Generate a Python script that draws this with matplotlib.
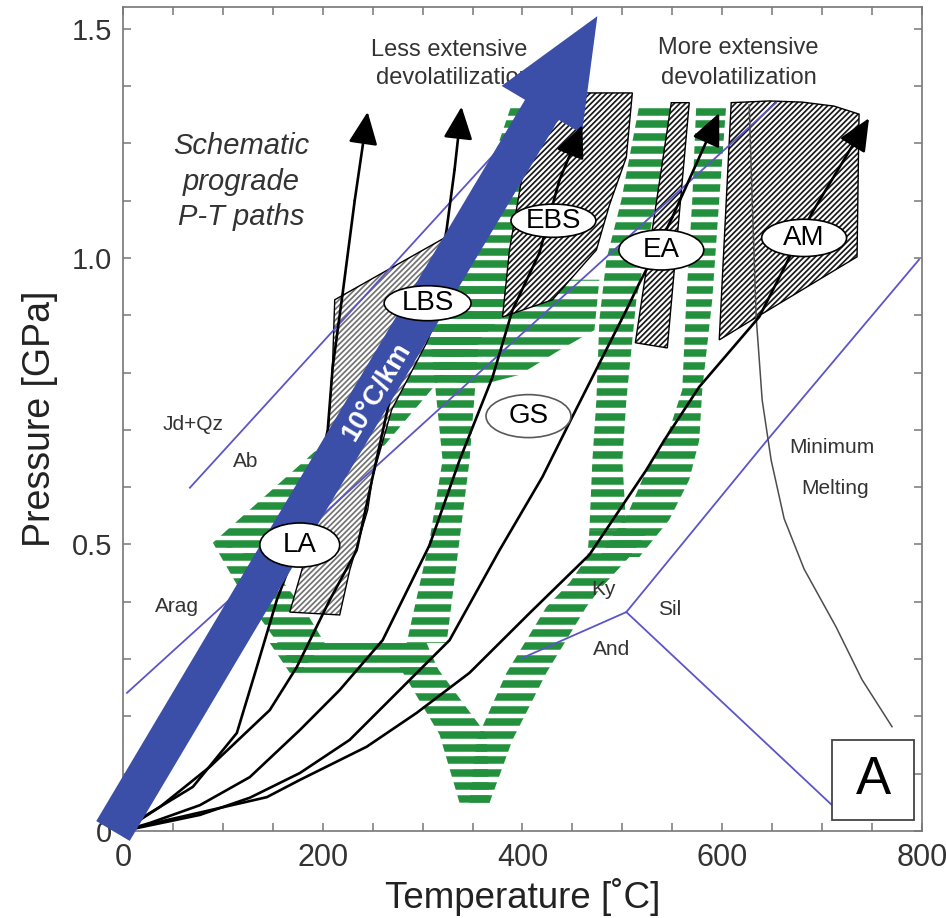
import numpy as np
import matplotlib
matplotlib.use("Agg")
import matplotlib.pyplot as plt
from matplotlib.patches import Polygon, Ellipse, Rectangle, FancyArrowPatch

plt.rcParams['font.family'] = ['Liberation Sans', 'DejaVu Sans']
plt.rcParams['hatch.linewidth'] = 1.25

GREEN = '#22903c'
BLUE = '#3b4ea8'
THIN_BLUE = '#5b55c8'

# --- schematic prograde P-T paths (T in C, P in GPa) ---
path1_T = [0, 20, 70, 114, 134, 154, 177, 195, 205, 210, 220, 232, 245]
path1_P = [0, 0.024, 0.077, 0.171, 0.286, 0.403, 0.509, 0.614, 0.700, 0.810, 0.939, 1.100, 1.255]

path2_T = [0, 37, 87, 147, 174, 207, 234, 250, 267, 287, 314, 324, 332, 339]
path2_P = [0, 0.042, 0.112, 0.211, 0.286, 0.403, 0.490, 0.618, 0.752, 0.857, 0.949, 1.049, 1.154, 1.264]

path3_T = [0, 27, 77, 127, 177, 217, 260, 307, 337, 357, 370, 390, 417, 437, 460]
path3_P = [0, 0.014, 0.045, 0.094, 0.176, 0.246, 0.333, 0.499, 0.647, 0.735, 0.792, 0.909, 1.009, 1.136, 1.232]

path4_T = [0, 77, 127, 177, 227, 277, 327, 377, 420, 450, 470, 504, 517, 534, 550, 597]
path4_P = [0, 0.028, 0.058, 0.101, 0.159, 0.246, 0.333, 0.490, 0.618, 0.723, 0.792, 0.909, 0.956, 1.013, 1.071, 1.253]

path5_T = [0, 44, 144, 177, 244, 294, 347, 407, 467, 524, 542, 577, 637, 690, 747]
path5_P = [0, 0.019, 0.059, 0.089, 0.147, 0.206, 0.276, 0.380, 0.482, 0.630, 0.682, 0.775, 0.897, 1.079, 1.244]

paths = [(path1_T, path1_P), (path2_T, path2_P), (path3_T, path3_P),
         (path4_T, path4_P), (path5_T, path5_P)]

# --- facies boundary bands (green striped) ---
bandA_T = [90, 197, 297, 367, 389, 437, 422, 397, 317, 207, 139]
bandA_P = [0.503, 0.670, 0.874, 1.154, 1.267, 1.267, 1.101, 0.927, 0.787, 0.560, 0.473]

bandB_T = [90, 139, 182, 202, 177, 167, 142, 117]
bandB_P = [0.503, 0.482, 0.386, 0.328, 0.276, 0.298, 0.360, 0.421]

bar_T = [147, 304, 317, 167]
bar_P = [0.328, 0.328, 0.276, 0.276]

vleft_T = [277, 314, 364, 367, 337, 317]
vleft_P = [0.286, 0.286, 0.168, 0.049, 0.049, 0.168]

bandF_T = [347, 354, 384, 424, 447, 465, 467, 527, 507, 477, 464, 424, 390, 367]
bandF_P = [0.049, 0.159, 0.276, 0.391, 0.433, 0.478, 0.525, 0.525, 0.478, 0.421, 0.391, 0.276, 0.159, 0.049]

bandD_T = [517, 499, 484, 477, 474, 470, 467, 504, 500, 504, 514, 534, 549]
bandD_P = [1.267, 1.101, 0.997, 0.892, 0.752, 0.647, 0.525, 0.525, 0.647, 0.752, 0.927, 1.101, 1.267]

bandE_T = [574, 604, 597, 590, 580, 577, 567, 547, 517, 477, 507, 524, 547, 560, 564, 570]
bandE_P = [1.267, 1.267, 1.101, 0.927, 0.770, 0.682, 0.613, 0.543, 0.478, 0.478, 0.560, 0.630, 0.700, 0.770, 0.927, 1.101]

bandC_T = [307, 357, 347, 337, 324, 284, 307, 320]
bandC_P = [0.874, 0.874, 0.647, 0.508, 0.328, 0.328, 0.508, 0.647]

bandH_T = [317, 477, 472, 437, 397, 357, 317]
bandH_P = [0.962, 0.962, 0.874, 0.839, 0.796, 0.778, 0.787]

green_bands = [(bandA_T, bandA_P), (bandB_T, bandB_P), (bar_T, bar_P),
               (vleft_T, vleft_P), (bandF_T, bandF_P), (bandD_T, bandD_P),
               (bandE_T, bandE_P), (bandC_T, bandC_P), (bandH_T, bandH_P)]

# --- devolatilization fields (hatched) ---
la_lbs_T = [212, 325, 347, 322, 304, 269, 250, 245, 227, 217, 167, 182, 195, 205, 210]
la_lbs_P = [0.927, 1.038, 1.014, 0.927, 0.852, 0.735, 0.618, 0.560, 0.455, 0.377, 0.382, 0.473, 0.578, 0.682, 0.822]

ebs_T = [414, 510, 504, 487, 474, 430, 380, 387]
ebs_P = [1.288, 1.288, 1.176, 1.092, 1.014, 0.927, 0.897, 1.014]

ea_T = [549, 567, 545, 513]
ea_P = [1.271, 1.271, 0.843, 0.852]

am_T = [609, 647, 680, 712, 737, 735, 630, 597]
am_P = [1.271, 1.274, 1.272, 1.265, 1.251, 1.002, 0.892, 0.857]

hatched = [(la_lbs_T, la_lbs_P, '0.45'), (ebs_T, ebs_P, '0.1'),
           (ea_T, ea_P, '0.1'), (am_T, am_P, '0.1')]

# --- reaction lines ---
jd_T, jd_P = [67, 382], [0.599, 1.201]
arag_T, arag_P = [4, 654], [0.241, 1.271]
and_ky_T, and_ky_P = [400, 504], [0.302, 0.382]
ky_sil_T, ky_sil_P = [504, 645, 797], [0.382, 0.682, 0.997]
and_sil_T, and_sil_P = [504, 710], [0.382, 0.045]

melt_T = [627, 630, 634, 640, 649, 662, 682, 714, 740, 770]
melt_P = [1.267, 1.101, 0.897, 0.752, 0.647, 0.545, 0.457, 0.356, 0.264, 0.182]

# --- field labels: name, T, P, width (C), height (GPa) ---
field_names = ['LBS', 'LA', 'EBS', 'GS', 'EA', 'AM']
field_T = [305, 177, 431, 406, 539, 682]
field_P = [0.921, 0.499, 1.065, 0.724, 1.014, 1.035]
field_w = [87, 80, 85, 85, 85, 85]
field_h = [0.061, 0.077, 0.058, 0.075, 0.070, 0.065]

note_text = ['Jd+Qz', 'Ab', 'Arag', 'Cc', 'Ky', 'Sil', 'And', 'Minimum', 'Melting']
note_T = [70, 123, 54, 99, 481, 547, 489, 710, 713]
note_P = [0.709, 0.644, 0.391, 0.342, 0.421, 0.386, 0.316, 0.670, 0.597]

gradient_tail = (-10, 0.0)
gradient_tip = (475, 1.422)

fig = plt.figure(figsize=(9.46, 9.18), dpi=100)
ax = fig.add_axes([0.130, 0.0948, 0.8446, 0.8976])
ax.set_xlim(0, 800)
ax.set_ylim(0, 1.438)

# striped bands: horizontal bars clipped to each band outline
stripe_rows = np.arange(0.012, 1.44, 0.0222)
for bt, bp in green_bands:
    outline = Polygon(np.column_stack([bt, bp]), closed=True, transform=ax.transData)
    bars = ax.hlines(stripe_rows, 0, 800, colors=GREEN, linewidth=5.4, zorder=1)
    bars.set_clip_path(outline)

for ht, hp, hc in hatched:
    xy = np.column_stack([ht, hp])
    ax.add_patch(Polygon(xy, closed=True, facecolor='white', edgecolor=hc,
                         hatch='//////', lw=0, zorder=2))
    ax.add_patch(Polygon(xy, closed=True, fill=False, edgecolor='k', lw=1.0, zorder=2.1))

for lt, lp in [(jd_T, jd_P), (arag_T, arag_P), (and_ky_T, and_ky_P),
               (ky_sil_T, ky_sil_P), (and_sil_T, and_sil_P)]:
    ax.plot(lt, lp, color=THIN_BLUE, lw=1.3, zorder=3)

ax.plot(melt_T, melt_P, color='0.3', lw=1.1, zorder=3)

# path bodies sit under the gradient arrow, their heads on top of it
for pt, pp in paths:
    ax.plot(pt[:-1], pp[:-1], color='k', lw=1.9, zorder=4, solid_capstyle='round')
    ax.annotate('', xy=(pt[-1], pp[-1]), xytext=(pt[-2], pp[-2]),
                arrowprops=dict(arrowstyle='-|>,head_length=1.0,head_width=0.45',
                                mutation_scale=20, color='k', lw=1.9,
                                shrinkA=0, shrinkB=0), zorder=6.5)

for s, t, p in zip(note_text, note_T, note_P):
    ax.text(t, p, s, fontsize=15, color='#333333', ha='center', va='center', zorder=5)

ax.text(327, 1.363, 'Less extensive', fontsize=17, color='#333333', ha='center', va='center', zorder=5)
ax.text(331, 1.314, 'devolatilization', fontsize=17, color='#333333', ha='center', va='center', zorder=5)
ax.text(616, 1.366, 'More extensive', fontsize=17, color='#333333', ha='center', va='center', zorder=5)
ax.text(617, 1.314, 'devolatilization', fontsize=17, color='#333333', ha='center', va='center', zorder=5)
ax.text(118, 1.133, 'Schematic\nprograde\nP-T paths', fontsize=21, style='italic',
        color='#333333', ha='center', va='center', linespacing=1.35, zorder=5)

gradient = FancyArrowPatch(gradient_tail, gradient_tip,
                           arrowstyle='simple,head_length=5.6,head_width=4.8,tail_width=2.0',
                           mutation_scale=14, color=BLUE, lw=0, zorder=6,
                           shrinkA=0, shrinkB=0, clip_on=False)
ax.add_patch(gradient)
ax.text(254, 0.766, '10°C/km', fontsize=20, fontweight='bold', color='white',
        rotation=59, rotation_mode='anchor', ha='center', va='center', zorder=8)

for s, t, p, w, h in zip(field_names, field_T, field_P, field_w, field_h):
    edge = '0.35' if s == 'GS' else 'k'
    ax.add_patch(Ellipse((t, p), w, h, facecolor='white', edgecolor=edge, lw=1.2, zorder=7))
    ax.text(t, p, s, fontsize=20, color='k', ha='center', va='center', zorder=8)

ax.add_patch(Rectangle((710, 0.019), 82, 0.140, facecolor='white', edgecolor='#444444',
                       lw=1.3, zorder=7))
ax.text(751, 0.089, 'A', fontsize=38, color='k', ha='center', va='center', zorder=8)

ax.set_xticks([0, 200, 400, 600, 800])
ax.set_xticks(np.arange(0, 801, 50), minor=True)
ax.set_yticks([0, 0.5, 1.0, 1.4])
ax.set_yticklabels(['0', '0.5', '1.0', '1.5'])
ax.set_yticks(np.arange(0, 1.41, 0.1), minor=True)
ax.tick_params(which='both', direction='in', top=True, right=True, length=6,
               width=1.1, color='#777777', labelsize=21, labelcolor='#333333')
ax.tick_params(axis='x', pad=9, labelsize=22)
ax.tick_params(axis='y', pad=8)
for sp in ax.spines.values():
    sp.set_color('#777777')
    sp.set_linewidth(1.2)

ax.set_xlabel('Temperature [˚C]', fontsize=26.5, color='#222222', labelpad=3)
ax.set_ylabel('Pressure [GPa]', fontsize=27, color='#222222', labelpad=10)

fig.savefig('out.png', dpi=100)
